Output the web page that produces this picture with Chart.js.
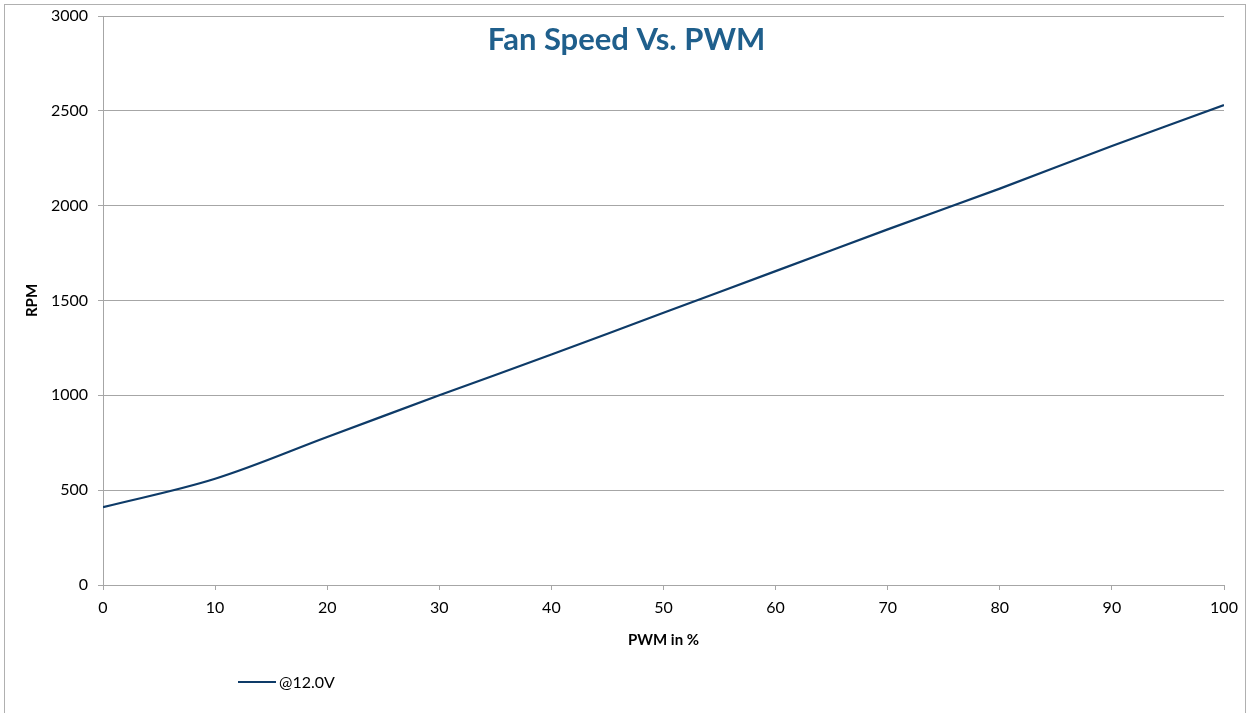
<!DOCTYPE html>
<html>
<head>
<meta charset="utf-8">
<script src="https://cdn.jsdelivr.net/npm/chart.js@4/dist/chart.umd.min.js"></script>
<style>
  html, body { margin: 0; padding: 0; background: #fff; }
  #wrap { width: 1249px; height: 713px; position: relative; }
</style>
</head>
<body>
<div id="wrap"><canvas id="c" width="1249" height="713"></canvas></div>
<script>
const chartTitle = "Fan Speed Vs. PWM";
const xAxisTitle = "PWM in %";
const yAxisTitle = "RPM";
const seriesName = "@12.0V";
const pwmPercent = [0, 10, 20, 30, 40, 50, 60, 70, 80, 90, 100];
const rpmValues = [410, 560, 780, 1000, 1215, 1435, 1655, 1875, 2090, 2315, 2530];
const yTicks = [0, 500, 1000, 1500, 2000, 2500, 3000];
const xTicks = [0, 10, 20, 30, 40, 50, 60, 70, 80, 90, 100];

const lineColor = '#0e3b68';
const gridColor = '#a6a6a6';
const fontFamily = 'Lato, "Open Sans", sans-serif';

const decor = {
  id: 'decor',
  beforeDraw(chart) {
    const ctx = chart.ctx;
    ctx.save();
    ctx.fillStyle = '#fff';
    ctx.fillRect(0, 0, chart.width, chart.height);
    ctx.strokeStyle = '#b0b0b0';
    ctx.lineWidth = 1;
    ctx.strokeRect(4.5, 4.5, 1241, 740);
    ctx.restore();
  },
  afterDraw(chart) {
    const ctx = chart.ctx;
    const a = chart.chartArea;
    ctx.save();
    // title inside plot area
    ctx.fillStyle = '#1f5f8c';
    ctx.font = 'bold 31px ' + fontFamily;
    ctx.textAlign = 'center';
    ctx.textBaseline = 'middle';
    ctx.fillText(chartTitle, a.left + (a.right - a.left) * 0.467, 40);
    // legend
    const ly = 682;
    ctx.strokeStyle = lineColor;
    ctx.lineWidth = 2.2;
    ctx.beginPath();
    ctx.moveTo(238, ly);
    ctx.lineTo(276, ly);
    ctx.stroke();
    ctx.fillStyle = '#000';
    ctx.font = '16px ' + fontFamily;
    ctx.textAlign = 'left';
    ctx.fillText(seriesName, 279, ly + 1);
    ctx.restore();
  }
};

new Chart(document.getElementById('c'), {
  type: 'line',
  data: {
    datasets: [{
      label: seriesName,
      data: pwmPercent.map((x, i) => ({ x: x, y: rpmValues[i] })),
      borderColor: lineColor,
      borderWidth: 2.2,
      pointRadius: 0,
      tension: 0.35,
      fill: false
    }]
  },
  options: {
    responsive: false,
    animation: false,
    devicePixelRatio: 1,
    layout: { padding: { left: 23, top: 16, right: 25, bottom: 64 } },
    plugins: {
      legend: { display: false },
      title: { display: false },
      tooltip: { enabled: false }
    },
    scales: {
      x: {
        type: 'linear',
        min: 0, max: 100,
        afterBuildTicks(s) { s.ticks = xTicks.map(v => ({ value: v })); },
        afterFit(s) { s.height = 64; s.paddingLeft = 0; s.paddingRight = 0; },
        grid: { drawOnChartArea: false, drawTicks: true, tickLength: 5, color: gridColor },
        border: { color: gridColor },
        ticks: { color: '#000', font: { family: fontFamily, size: 16 }, padding: 8, maxRotation: 0, callback: v => String(v) },
        title: { display: true, text: xAxisTitle, color: '#000', font: { family: fontFamily, size: 15, weight: 'bold' }, padding: { top: 0, bottom: 0 } }
      },
      y: {
        type: 'linear',
        min: 0, max: 3000,
        afterBuildTicks(s) { s.ticks = yTicks.map(v => ({ value: v })); },
        afterFit(s) { s.width = 80; s.paddingTop = 0; s.paddingBottom = 0; },
        grid: { drawTicks: true, tickLength: 5, color: gridColor },
        border: { color: gridColor },
        ticks: { color: '#000', font: { family: fontFamily, size: 16 }, padding: 10, callback: v => String(v) },
        title: { display: true, text: yAxisTitle, color: '#000', font: { family: fontFamily, size: 15, weight: 'bold' }, padding: { top: 0, bottom: 0 } }
      }
    }
  },
  plugins: [decor]
});
</script>
</body>
</html>
